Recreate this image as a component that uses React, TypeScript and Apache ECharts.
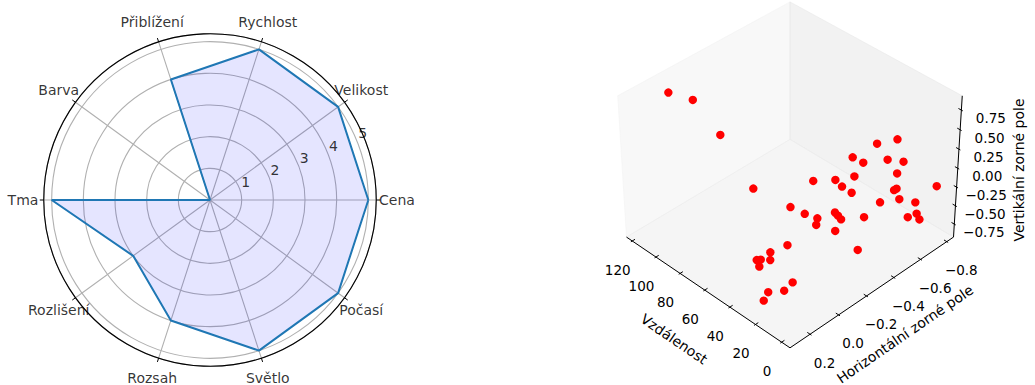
import React, { useEffect, useRef } from 'react';
import * as echarts from 'echarts';

// ---------- radar data ----------
const categories = ['Cena', 'Velikost', 'Rychlost', 'Přiblížení', 'Barva', 'Tma', 'Rozlišení', 'Rozsah', 'Světlo', 'Počasí'];
const ratings = [5, 5, 5, 4, 0, 5, 3, 4, 5, 5];
const radialTicks = [1, 2, 3, 4, 5];

// ---------- 3D scatter data ----------
const distance = [117.5, 113.6, 94.5, 68.8, 49.9, 42.7, 47.2, 36.7, 35.6, 38.8, 34.6, 29.4, 32.2, 37.4, 32.0,
  31.1, 24.2, 23.2, 16.5, 16.2, 13.4, 12.8, 9.2, 16.0, 2.2, 3.5, 1.6, 5.2, 2.1, 18.7,
  31.2, 29.3, 27.2, 26.7, 13.4, 42.0, 47.0, 45.2, 50.5, 49.0, 47.9, 27.7, 27.0, 32.3, 29.5];
const horizontalFov = [0.069, -0.060, -0.082, -0.083, -0.175, -0.211, -0.312, -0.246, -0.228, -0.393, -0.402, -0.423, -0.468, -0.503, -0.529,
  -0.619, -0.701, -0.622, -0.674, -0.626, -0.579, -0.591, -0.578, -0.503, -0.628, -0.802, -0.569, -0.674, -0.665, -0.414,
  -0.321, -0.325, -0.328, -0.282, -0.321, -0.082, -0.006, 0.011, 0.059, 0.044, 0.064, 0.011, 0.077, 0.141, 0.197];
const verticalFov = [0.759, 0.566, 0.276, -0.167, -0.321, -0.377, -0.105, -0.414, -0.470, -0.097, -0.151, -0.203, -0.068, 0.091, 0.046,
  0.204, 0.240, 0.071, 0.054, -0.043, -0.181, -0.169, -0.256, -0.282, -0.282, -0.282, -0.405, -0.520, -0.555, -0.405,
  -0.366, -0.393, -0.424, -0.519, -0.677, -0.637, -0.696, -0.760, -0.760, -0.757, -0.815, -0.867, -0.889, -0.889, -0.900];

const distanceTicks = [0, 20, 40, 60, 80, 100, 120];
const horizontalTicks = [0.2, 0.0, -0.2, -0.4, -0.6, -0.8];
const verticalTicks = [0.75, 0.5, 0.25, 0.0, -0.25, -0.5, -0.75];

const FONT = '"DejaVu Sans", sans-serif';

// ---------- 3D view (matplotlib-like perspective) ----------
const XLIM = [-6.3, 124.9];
const YLIM = [-0.852, 0.338];
const ZLIM = [-0.929, 0.929];
const ELEV = 37.5;
const AZIM = 135;
const DIST = 10;
const SCALE = 2076;
const CX = 790;
const CY = 168.3;

const boxNorm = Math.hypot(4, 4, 3);
const BOX = [4, 4, 3].map((v) => (v * 1.8294640721620434) / boxNorm);
const er = (ELEV * Math.PI) / 180;
const ar = (AZIM * Math.PI) / 180;
const N = [Math.cos(er) * Math.cos(ar), Math.cos(er) * Math.sin(ar), Math.sin(er)];
const ulen = Math.hypot(N[0], N[1]);
const U = [-N[1] / ulen, N[0] / ulen, 0];
const V = [N[1] * U[2] - N[2] * U[1], N[2] * U[0] - N[0] * U[2], N[0] * U[1] - N[1] * U[0]];
const dot = (a: number[], b: number[]) => a[0] * b[0] + a[1] * b[1] + a[2] * b[2];

function project(x: number, y: number, z: number): number[] {
  const q = [
    ((x - XLIM[0]) / (XLIM[1] - XLIM[0])) * BOX[0] - BOX[0] / 2,
    ((y - YLIM[0]) / (YLIM[1] - YLIM[0])) * BOX[1] - BOX[1] / 2,
    ((z - ZLIM[0]) / (ZLIM[1] - ZLIM[0])) * BOX[2] - BOX[2] / 2,
  ];
  const w = DIST - dot(N, q);
  return [CX + (SCALE * dot(U, q)) / w, CY - (SCALE * dot(V, q)) / w];
}

const fmt = (v: number, d: number) => (v < -1e-9 ? '\u2212' : '') + Math.abs(v).toFixed(d);

const DX = (XLIM[1] - XLIM[0]) / 12.5;
const DY = (YLIM[1] - YLIM[0]) / 12.5;

function seg(a: number[], b: number[], color = '#000', width = 1) {
  return { type: 'line', shape: { x1: a[0], y1: a[1], x2: b[0], y2: b[1] }, style: { stroke: color, lineWidth: width } };
}
function label(text: string, x: number, y: number, size = 13.5) {
  return {
    type: 'text',
    style: { text, x, y, align: 'center', verticalAlign: 'middle', fontSize: size, fontFamily: FONT, fill: '#000' },
  };
}

export default function App() {
  const ref = useRef<HTMLDivElement>(null);
  useEffect(() => {
    if (!ref.current) return;
    const chart = echarts.init(ref.current, null, { renderer: 'svg' });

    const ratingData = categories.map((_, i) => [ratings[i], i * 36]);
    ratingData.push([ratings[0], 360]);

    const scatterData = distance.map((d, i) => [d, horizontalFov[i], verticalFov[i]]);

    const option: any = {
      animation: false,
      textStyle: { fontFamily: FONT },
      polar: { center: [210, 200], radius: 166.25 },
      angleAxis: {
        type: 'value',
        min: 0,
        max: 360,
        interval: 36,
        startAngle: 0,
        clockwise: false,
        axisLine: { show: true, lineStyle: { color: '#000', width: 1.1 } },
        axisTick: { show: true, length: 4, lineStyle: { color: '#000', width: 1 } },
        axisLabel: { show: false },
        splitLine: { show: true, lineStyle: { color: '#b0b0b0', width: 1.1 } },
      },
      radiusAxis: {
        type: 'value',
        min: 0,
        max: 5.25,
        interval: 1,
        axisLine: { show: false },
        axisTick: { show: false },
        axisLabel: { show: false },
        splitLine: { show: true, lineStyle: { color: '#b0b0b0', width: 1.1 } },
      },
      series: [
        {
          type: 'line',
          coordinateSystem: 'polar',
          data: ratingData,
          symbol: 'none',
          lineStyle: { color: '#1f77b4', width: 2 },
          areaStyle: { color: 'rgba(0,0,255,0.1)', opacity: 1 },
          z: 3,
        },
        {
          type: 'scatter',
          coordinateSystem: 'polar',
          data: categories.map((_, i) => [5.905, i * 36]),
          symbolSize: 1,
          itemStyle: { color: 'transparent' },
          clip: false,
          silent: true,
          label: {
            show: true,
            position: 'inside',
            formatter: (p: any) => categories[p.dataIndex],
            fontSize: 14,
            fontFamily: FONT,
            color: '#000',
          },
          z: 4,
        },
        {
          type: 'scatter',
          coordinateSystem: 'polar',
          data: radialTicks.map((v) => [v, 22.5]),
          symbolSize: 1,
          itemStyle: { color: 'transparent' },
          clip: false,
          silent: true,
          label: {
            show: true,
            position: 'inside',
            align: 'left',
            verticalAlign: 'bottom',
            offset: [2, 1],
            formatter: (p: any) => String(p.value[0]),
            fontSize: 14,
            fontFamily: FONT,
            color: '#000',
          },
          z: 4,
        },
        // panes and axis lines
        {
          type: 'custom',
          coordinateSystem: 'none',
          silent: true,
          z: 1,
          data: [[0]],
          renderItem: () => {
            const [x0, x1] = XLIM;
            const [y0, y1] = YLIM;
            const [z0, z1] = ZLIM;
            const poly = (pts: number[][], fill: string) => ({
              type: 'polygon',
              shape: { points: pts.map((p) => project(p[0], p[1], p[2])) },
              style: { fill, stroke: fill, lineWidth: 1 },
            });
            return {
              type: 'group',
              children: [
                poly([[x1, y0, z0], [x1, y1, z0], [x1, y1, z1], [x1, y0, z1]], 'rgba(242,242,242,0.5)'),
                poly([[x0, y0, z0], [x1, y0, z0], [x1, y0, z1], [x0, y0, z1]], 'rgba(230,230,230,0.5)'),
                poly([[x0, y0, z0], [x1, y0, z0], [x1, y1, z0], [x0, y1, z0]], 'rgba(236,236,236,0.5)'),
                seg(project(x0, y1, z0), project(x1, y1, z0)),
                seg(project(x0, y0, z0), project(x0, y1, z0)),
                seg(project(x0, y0, z0), project(x0, y0, z1)),
              ],
            };
          },
        },
        // x ticks (Vzdálenost)
        {
          type: 'custom',
          coordinateSystem: 'none',
          silent: true,
          z: 2,
          data: distanceTicks.map((v) => [v]),
          renderItem: (_p: any, api: any) => {
            const v = api.value(0);
            const a = project(v, YLIM[1] + 0.1 * DY, ZLIM[0]);
            const b = project(v, YLIM[1] - 0.2 * DY, ZLIM[0]);
            const c = project(v, YLIM[1], ZLIM[0]);
            return { type: 'group', children: [seg(a, b), label(fmt(v, 0), c[0] - 14.5, c[1] + 29)] };
          },
        },
        // y ticks (Horizontální)
        {
          type: 'custom',
          coordinateSystem: 'none',
          silent: true,
          z: 2,
          data: horizontalTicks.map((v) => [v]),
          renderItem: (_p: any, api: any) => {
            const v = api.value(0);
            const a = project(XLIM[0] - 0.1 * DX, v, ZLIM[0]);
            const b = project(XLIM[0] + 0.2 * DX, v, ZLIM[0]);
            const c = project(XLIM[0], v, ZLIM[0]);
            return { type: 'group', children: [seg(a, b), label(fmt(v, 1), c[0] + 14.5, c[1] + 28.4)] };
          },
        },
        // z ticks (Vertikální)
        {
          type: 'custom',
          coordinateSystem: 'none',
          silent: true,
          z: 2,
          data: verticalTicks.map((v) => [v]),
          renderItem: (_p: any, api: any) => {
            const v = api.value(0);
            const a = project(XLIM[0] - 0.1 * DX, YLIM[0], v);
            const b = project(XLIM[0] + 0.2 * DX, YLIM[0], v);
            const c = project(XLIM[0], YLIM[0], v);
            return { type: 'group', children: [seg(a, b), label(fmt(v, 2), c[0] + 29.5, c[1] + 8)] };
          },
        },
        // scatter points
        {
          type: 'custom',
          coordinateSystem: 'none',
          silent: true,
          z: 5,
          data: scatterData,
          renderItem: (_p: any, api: any) => {
            const p = project(api.value(0), api.value(1), api.value(2));
            return { type: 'circle', shape: { cx: p[0], cy: p[1], r: 4.2 }, style: { fill: '#ff0000' } };
          },
        },
      ],
      graphic: [
        {
          type: 'text',
          x: 674,
          y: 339,
          rotation: (-34.4 * Math.PI) / 180,
          style: { text: 'Vzdálenost', align: 'center', verticalAlign: 'middle', fontSize: 14, fontFamily: FONT, fill: '#000' },
        },
        {
          type: 'text',
          x: 905,
          y: 334,
          rotation: (34.5 * Math.PI) / 180,
          style: { text: 'Horizontální zorné pole', align: 'center', verticalAlign: 'middle', fontSize: 14, fontFamily: FONT, fill: '#000' },
        },
        {
          type: 'text',
          x: 1019,
          y: 170,
          rotation: Math.PI / 2,
          style: { text: 'Vertikální zorné pole', align: 'center', verticalAlign: 'middle', fontSize: 14, fontFamily: FONT, fill: '#000' },
        },
      ],
    };

    chart.setOption(option);
    return () => chart.dispose();
  }, []);

  return <div ref={ref} style={{ position: 'fixed', left: 0, top: 0, width: 1035, height: 385, background: '#fff' }} />;
}
